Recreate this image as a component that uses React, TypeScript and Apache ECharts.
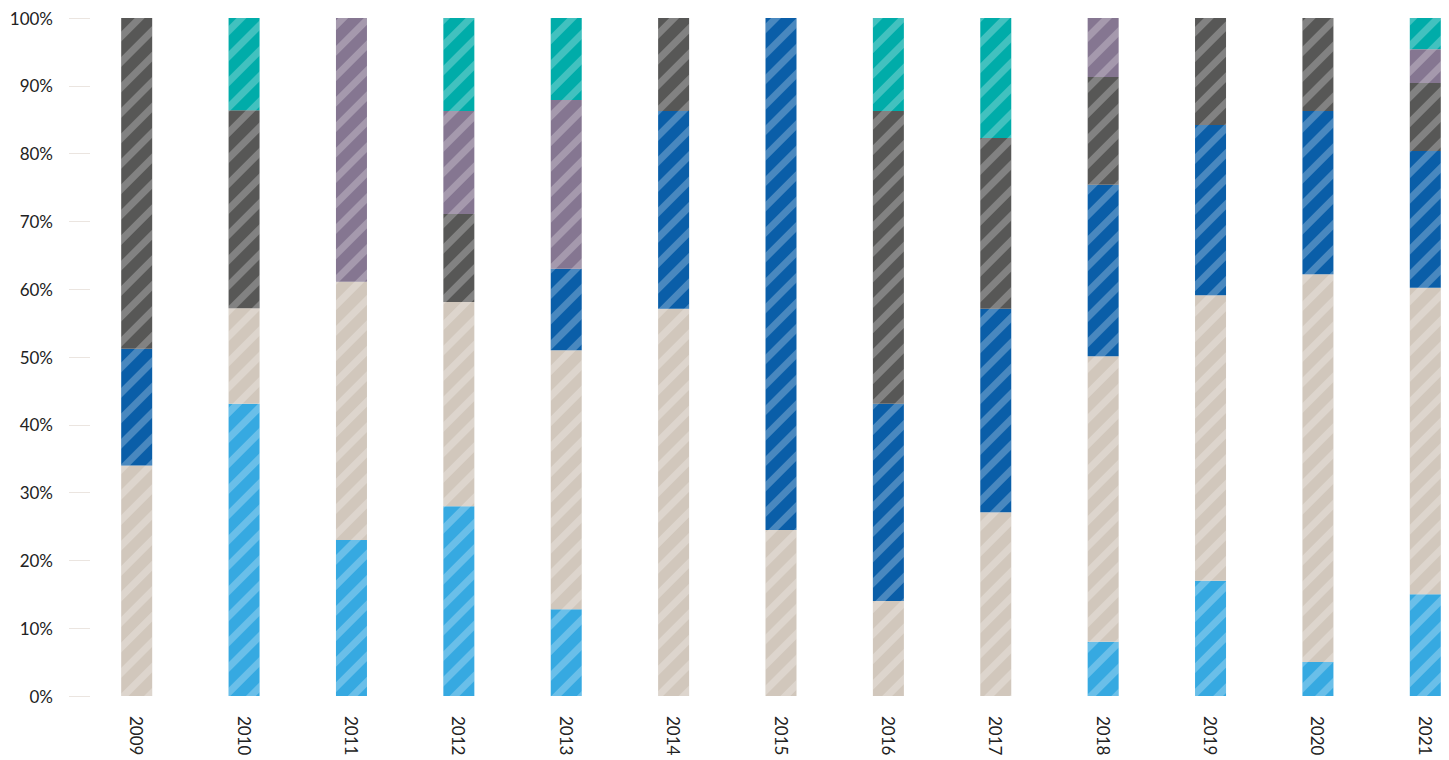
import React, { useEffect, useRef } from "react";
import * as echarts from "echarts";

// Years on the category axis
const years = ["2009", "2010", "2011", "2012", "2013", "2014", "2015", "2016", "2017", "2018", "2019", "2020", "2021"];

// Share of each group per year (%), stacked bottom to top
const lightBlue = [0, 43.1, 23, 28, 12.8, 0, 0, 0, 0, 8, 17, 5, 15];
const beige = [34, 14.1, 38.1, 30.1, 38.2, 57.1, 24.5, 14, 27.1, 42.1, 42.1, 57.2, 45.2];
const darkBlue = [17.2, 0, 0, 0, 12, 29.2, 75.5, 29.1, 30, 25.3, 25.1, 24.1, 20.2];
const darkGray = [48.8, 29.2, 0, 13, 0, 13.7, 0, 43.2, 25.2, 15.9, 15.8, 13.7, 10];
const purple = [0, 0, 38.9, 15.2, 24.9, 0, 0, 0, 0, 8.7, 0, 0, 5];
const teal = [0, 13.6, 0, 13.7, 12.1, 0, 0, 13.7, 17.7, 0, 0, 0, 4.6];

const yTicks = [0, 10, 20, 30, 40, 50, 60, 70, 80, 90, 100];

const groups = [
  { name: "A", data: lightBlue, color: "#36a9e1" },
  { name: "B", data: beige, color: "#d1c7bc" },
  { name: "C", data: darkBlue, color: "#0a5ea8" },
  { name: "D", data: darkGray, color: "#575756" },
  { name: "E", data: purple, color: "#857691" },
  { name: "F", data: teal, color: "#00aca9" },
];

// Diagonal "/" hatching laid over every bar
const stripe = {
  symbol: "rect",
  symbolSize: 1,
  dashArrayX: [1, 0],
  dashArrayY: [7, 11],
  rotation: -Math.PI / 4,
  color: "rgba(255,255,255,0.26)",
};

export default function App() {
  const ref = useRef<HTMLDivElement>(null);

  useEffect(() => {
    if (!ref.current) return;
    const chart = echarts.init(ref.current, undefined, { renderer: "svg" });
    const font = "Lato, 'Noto Sans', sans-serif";
    chart.setOption({
      animation: false,
      textStyle: { fontFamily: font },
      grid: { left: 83, right: 1, top: 18, bottom: 64, containLabel: false },
      xAxis: {
        type: "category",
        data: years,
        axisLine: { show: false },
        axisTick: { show: false },
        axisLabel: {
          rotate: -90,
          margin: 20,
          color: "#222",
          fontSize: 17,
          fontFamily: font,
        },
      },
      yAxis: {
        type: "value",
        min: yTicks[0],
        max: yTicks[yTicks.length - 1],
        interval: 10,
        offset: -7,
        axisLine: { show: false },
        axisTick: { show: true, length: 21, lineStyle: { color: "#ebe5e0", width: 1 } },
        splitLine: { show: false },
        axisLabel: {
          formatter: "{value}%",
          margin: 37,
          color: "#222",
          fontSize: 17,
          fontFamily: font,
        },
      },
      series: groups.map((g) => ({
        name: g.name,
        type: "bar",
        stack: "total",
        barWidth: 31,
        data: g.data,
        itemStyle: { color: g.color, decal: stripe },
      })),
    });
    return () => chart.dispose();
  }, []);

  // The plot runs a little past the right edge of the page, so the outer box clips it
  return (
    <div style={{ position: "absolute", left: 0, top: 0, width: 1449, height: 760, overflow: "hidden" }}>
      <div ref={ref} style={{ width: 1480, height: 760 }} />
    </div>
  );
}
